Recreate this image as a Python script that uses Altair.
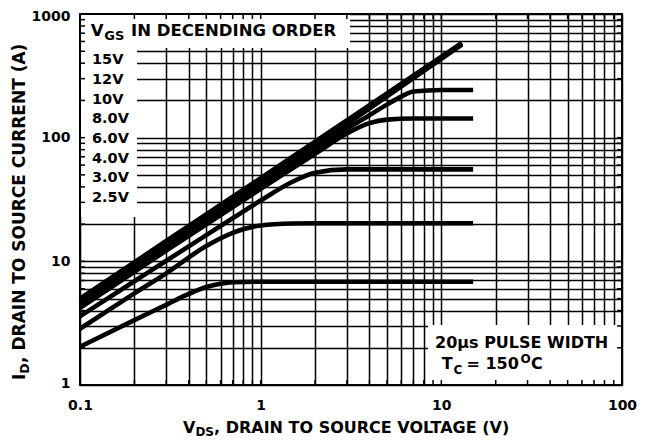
import altair as alt
import pandas as pd

# ---------------- data ----------------
vgs_labels = ["15V", "12V", "10V", "8.0V", "6.0V", "4.0V", "3.0V", "2.5V"]

vds_15 = [0.1, 0.3, 1.0, 3.0, 13.0]
id_15 = [5.0, 14.6, 47.0, 138.0, 585.0]
vds_12 = [0.1, 0.3, 1.0, 3.0, 13.0]
id_12 = [4.8, 14.0, 45.0, 133.0, 575.0]
vds_10 = [0.1, 0.3, 1.0, 3.0, 13.0]
id_10 = [4.6, 13.4, 43.5, 129.0, 565.0]
vds_8 = [0.1, 0.3, 1.0, 2.0, 3.0, 4.0, 5.0, 6.0, 7.0, 10.0, 15.0]
id_8 = [4.4, 12.8, 41.0, 80.0, 118.0, 152.0, 185.0, 215.0, 236.0, 243.0, 243.0]
vds_6 = [0.1, 0.3, 1.0, 2.0, 3.0, 4.0, 5.0, 7.0, 15.0]
id_6 = [4.2, 12.2, 38.5, 74.0, 108.0, 131.0, 140.0, 143.0, 143.0]
vds_4 = [0.1, 0.2, 0.3, 0.5, 0.7, 1.0, 1.5, 2.0, 3.0, 15.0]
id_4 = [3.6, 6.9, 10.1, 16.3, 22.3, 31.0, 44.0, 52.0, 55.4, 55.4]
vds_3 = [0.1, 0.2, 0.3, 0.5, 0.7, 1.0, 1.5, 2.0, 15.0]
id_3 = [2.85, 5.5, 8.0, 13.3, 17.0, 19.5, 20.2, 20.3, 20.3]
vds_25 = [0.1, 0.2, 0.3, 0.4, 0.5, 0.6, 0.7, 1.0, 15.0]
id_25 = [2.04, 3.35, 4.45, 5.45, 6.2, 6.6, 6.78, 6.84, 6.84]

x_tick_labels = ["0.1", "1", "10", "100"]
y_tick_labels = ["1", "10", "100", "1000"]

series = [
    ("15V", vds_15, id_15), ("12V", vds_12, id_12), ("10V", vds_10, id_10),
    ("8.0V", vds_8, id_8), ("6.0V", vds_6, id_6), ("4.0V", vds_4, id_4),
    ("3.0V", vds_3, id_3), ("2.5V", vds_25, id_25),
]
rows = []
for name, xs, ys in series:
    for i, (a, b) in enumerate(zip(xs, ys)):
        rows.append({"vgs": name, "vds": a, "id": b, "k": i})
df = pd.DataFrame(rows)

x_grid = [round(m * 10.0 ** e, 6) for e in (-1, 0, 1) for m in range(1, 10)] + [100.0]
y_grid = [round(m * 10.0 ** e, 6) for e in (0, 1, 2) for m in range(1, 10)] + [1000.0]

W, H = 542, 371
FONT = "DejaVu Sans"

xscale = alt.Scale(type="log", domain=[0.1, 100], nice=False)
yscale = alt.Scale(type="log", domain=[1, 1000], nice=False)

xlabel_expr = "indexof(%s, format(datum.value, '~g')) >= 0 ? format(datum.value, '~g') : ''" % str(x_tick_labels)
ylabel_expr = "indexof(%s, format(datum.value, '~g')) >= 0 ? format(datum.value, '~g') : ''" % str(y_tick_labels)

xaxis = alt.Axis(values=x_grid, grid=True, gridColor="black", gridWidth=1.5, gridOpacity=1,
                 ticks=False, tickSize=0, domain=False, labelExpr=xlabel_expr, labelFlush=False,
                 labelOverlap=False, labelFont=FONT, labelFontWeight="bold", labelFontSize=14,
                 labelColor="black", labelPadding=13, title=None)
yaxis = alt.Axis(values=y_grid, grid=True, gridColor="black", gridWidth=1.5, gridOpacity=1,
                 ticks=False, tickSize=0, domain=False, labelExpr=ylabel_expr, labelFlush=True,
                 labelFlushOffset=5, labelOverlap=False, labelFont=FONT, labelFontWeight="bold",
                 labelFontSize=14, labelColor="black", labelPadding=10, title=None)

curves = alt.Chart(df).mark_line(color="black", strokeWidth=4.6, interpolate="monotone").encode(
    x=alt.X("vds:Q", scale=xscale, axis=xaxis),
    y=alt.Y("id:Q", scale=yscale, axis=yaxis),
    detail="vgs:N",
    order="k:Q",
)

def box(x1, x2, y1, y2):
    return alt.Chart().mark_rect(fill="white").encode(
        x=alt.value(x1), x2=alt.value(x2), y=alt.value(y1), y2=alt.value(y2))

boxes = [box(0, 270, 0, 34), box(0, 57, 34, 203), box(348, W, 311, H)]

xg = pd.DataFrame({"g": x_grid})
yg = pd.DataFrame({"g": y_grid})
TL = 5
tick_top = alt.Chart(xg).mark_rule(color="black", strokeWidth=1.5).encode(
    x=alt.X("g:Q", scale=xscale), y=alt.value(0), y2=alt.value(TL))
tick_bot = alt.Chart(xg).mark_rule(color="black", strokeWidth=1.5).encode(
    x=alt.X("g:Q", scale=xscale), y=alt.value(H - TL), y2=alt.value(H))
tick_left = alt.Chart(yg).mark_rule(color="black", strokeWidth=1.5).encode(
    y=alt.Y("g:Q", scale=yscale), x=alt.value(0), x2=alt.value(TL))
tick_right = alt.Chart(yg).mark_rule(color="black", strokeWidth=1.5).encode(
    y=alt.Y("g:Q", scale=yscale), x=alt.value(W - TL), x2=alt.value(W))

frame = alt.Chart().mark_rect(filled=False, stroke="black", strokeWidth=2).encode(
    x=alt.value(0), x2=alt.value(W), y=alt.value(0), y2=alt.value(H))


def txt(s, x, y, size, angle=0, **kw):
    props = dict(align="left", baseline="alphabetic", font=FONT, fontWeight="bold",
                 fontSize=size, color="black", **kw)
    if angle:
        props["angle"] = angle
    return alt.Chart().mark_text(**props).encode(x=alt.value(x), y=alt.value(y), text=alt.value(s))


texts = [
    # legend header
    txt("V", 10.7, 22, 16.5),
    txt("GS", 24.3, 26, 13),
    txt("IN DECENDING ORDER", 51, 22, 16.5),
    # legend list
    alt.Chart().mark_text(align="left", baseline="alphabetic", font=FONT, fontWeight="bold",
                          fontSize=14.5, color="black", lineHeight=19.67).encode(
        x=alt.value(12), y=alt.value(50.3), text=alt.value(vgs_labels)),
    # conditions box
    txt("20\u00b5s PULSE WIDTH", 355, 334.3, 16),
    txt("T", 361.7, 355.3, 16),
    txt("C", 373.5, 359.5, 12),
    txt(" = 150", 386.5, 355.3, 16),
    txt("O", 440.5, 349, 12),
    txt("C", 451, 355.3, 16),
    # x title
    txt("V", 103, 418.5, 16),
    txt("DS", 115.4, 421.5, 12),
    txt(", DRAIN TO SOURCE VOLTAGE (V)", 134, 418.5, 16),
    # y title (rotated)
    txt("I", -55, 366, 17, angle=270),
    txt("D", -51, 359.7, 12.5, angle=270),
    txt(", DRAIN TO SOURCE CURRENT (A)", -55, 348.9, 17, angle=270),
]

chart = alt.layer(
    curves, *boxes, tick_top, tick_bot, tick_left, tick_right, frame, *texts
).properties(
    width=W, height=H,
    padding={"left": 72, "top": 6, "right": 22, "bottom": 54},
    autosize="none",
    background="white",
).configure_view(stroke=None)

chart.save("out.html", embed_options={"renderer": "svg", "actions": False})
